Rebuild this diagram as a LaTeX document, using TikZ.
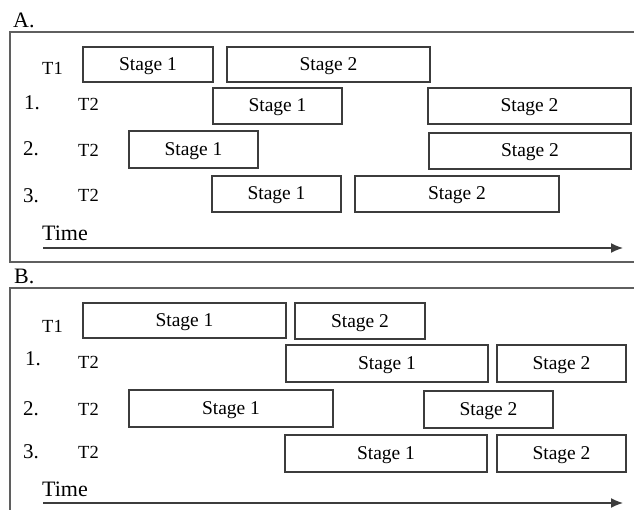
\documentclass[tikz,border=0pt]{standalone}
\usepackage{fontspec}
\setmainfont{Liberation Serif}
\usetikzlibrary{arrows.meta,calc}
\definecolor{linegray}{RGB}{60,60,60}
\definecolor{framegray}{RGB}{95,95,95}
\tikzset{
  stagebox/.style={draw=linegray, line width=1.5pt, inner sep=0pt, rectangle},
  stagetext/.style={anchor=base, inner sep=0pt, font=\fontsize{19.5}{19.5}\selectfont},
  tlabel/.style={anchor=base west, inner sep=0pt, font=\fontsize{18.5}{18.5}\selectfont},
  numlabel/.style={anchor=base west, inner sep=0pt, font=\fontsize{21}{21}\selectfont},
  panellabel/.style={anchor=base west, inner sep=0pt, font=\fontsize{22}{22}\selectfont},
  frame/.style={draw=framegray, line width=1.6pt},
  timearrow/.style={draw=linegray, line width=1.4pt, -{Latex[length=12pt,width=10pt]}}
}
\newcommand\stg[7]{%
  \node[stagebox, minimum width={(#4-#2)*1pt}, minimum height={(#5-#3)*1pt}] (#1) at ($(#2,#3)!0.5!(#4,#5)$) {};
  \node[stagetext] (#1t) at ([yshift=-6pt]#1.center) {#6};
}
\begin{document}
\begin{tikzpicture}[x=1pt,y=-1pt]
\useasboundingbox (0,0) rectangle (634,510);
% frames
\draw[frame] (634,32) -- (10,32) -- (10,262) -- (634,262);
\draw[frame] (634,288) -- (10,288) -- (10,512);
% panel labels
\node[panellabel] (labA) at (13,28) {A.};
\node[panellabel] (labB) at (14,284) {B.};
% Panel A
\node[tlabel] (aT1) at (42,75) {T1};
\node[numlabel] (a1) at (24,110) {1.};
\node[tlabel] (aT2a) at (78,111) {T2};
\node[numlabel] (a2) at (23,156) {2.};
\node[tlabel] (aT2b) at (78,157) {T2};
\node[numlabel] (a3) at (23,203) {3.};
\node[tlabel] (aT2c) at (78,202) {T2};
\stg{aTs1}{83}{47}{213}{82}{Stage 1}{}
\stg{aTs2}{227}{47}{430}{82}{Stage 2}{}
\stg{aAs1}{213}{88}{342}{124}{Stage 1}{}
\stg{aAs2}{428}{88}{631}{124}{Stage 2}{}
\stg{aBs1}{129}{131}{258}{168}{Stage 1}{}
\stg{aBs2}{429}{133}{631}{169}{Stage 2}{}
\stg{aCs1}{212}{176}{341}{212}{Stage 1}{}
\stg{aCs2}{355}{176}{559}{212}{Stage 2}{}
\node[panellabel] (aTime) at (42,241) {Time};
\coordinate (aS) at (43,248);
\coordinate (aE) at (623,248);
\draw[timearrow] (aS) -- (aE);
% Panel B
\node[tlabel] (bT1) at (42,332) {T1};
\node[numlabel] (b1) at (25,365) {1.};
\node[tlabel] (bT2a) at (78,368) {T2};
\node[numlabel] (b2) at (23,415) {2.};
\node[tlabel] (bT2b) at (78,415) {T2};
\node[numlabel] (b3) at (23,458) {3.};
\node[tlabel] (bT2c) at (78,458) {T2};
\stg{bTs1}{83}{303}{286}{338}{Stage 1}{}
\stg{bTs2}{295}{303}{425}{339}{Stage 2}{}
\stg{bAs1}{286}{345}{488}{382}{Stage 1}{}
\stg{bAs2}{497}{345}{626}{382}{Stage 2}{}
\stg{bBs1}{129}{390}{333}{427}{Stage 1}{}
\stg{bBs2}{424}{391}{553}{428}{Stage 2}{}
\stg{bCs1}{285}{435}{487}{472}{Stage 1}{}
\stg{bCs2}{497}{435}{626}{472}{Stage 2}{}
\node[panellabel] (bTime) at (42,496) {Time};
\coordinate (bS) at (43,503);
\coordinate (bE) at (623,503);
\draw[timearrow] (bS) -- (bE);
\end{tikzpicture}
\end{document}
